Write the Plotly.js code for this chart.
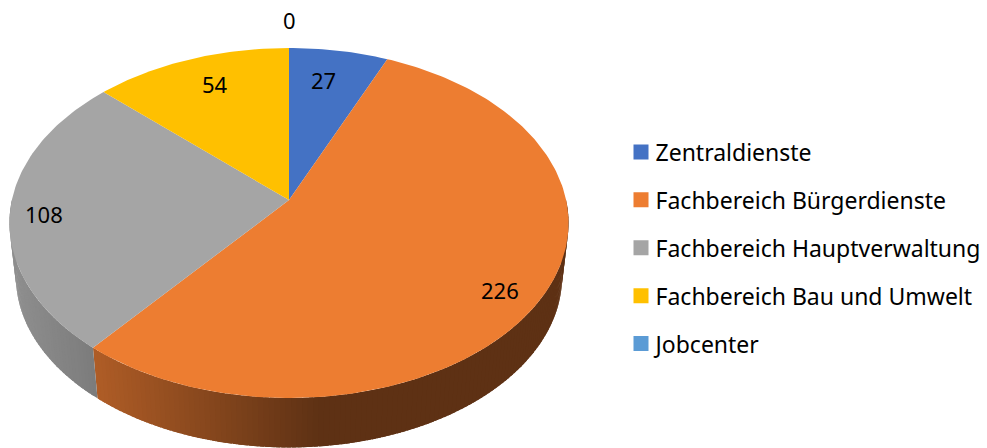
<!DOCTYPE html>
<html>
<head>
<meta charset="utf-8">
<script src="https://cdn.plot.ly/plotly-3.0.1.min.js"></script>
<style>html,body{margin:0;padding:0;background:#fff;overflow:hidden}#chart{width:987px;height:448px}</style>
</head>
<body>
<div id="chart"></div>
<script>
const categories = ["Zentraldienste","Fachbereich Bürgerdienste","Fachbereich Hauptverwaltung","Fachbereich Bau und Umwelt","Jobcenter"];
const values = [27,226,108,54,0];
const colors = ["#4472C4","#ED7D31","#A5A5A5","#FFC000","#5B9BD5"];
const sideFrom = ["#4472C4","#AE5C26","#8E8E8E","#FFC000","#5B9BD5"];
const sideTo   = ["#4472C4","#5E3114","#7C7C7C","#FFC000","#5B9BD5"];
const labelAnchors = [[323,80],[500,290],[44,214],[215,84],[289,20]];

const view = {cx:289,cy:200,A:277.1,B:172,k:0.1314,depthScale:0.977,depthY:254};
const total = values.reduce((a,b)=>a+b,0);
const rad = t => t*Math.PI/180;
function topPt(t){const s=Math.sin(rad(t)),c=Math.cos(rad(t)),d=1+view.k*c;
  return [view.cx+view.A*s/d, view.cy-view.B*c/d];}
function basePt(t){const s=Math.sin(rad(t)),c=Math.cos(rad(t)),d=1+view.k*c;
  return [view.cx+view.A*view.depthScale*s/d, view.depthY-view.B*view.depthScale*c/d];}
function hex(c){return [1,3,5].map(i=>parseInt(c.substr(i,2),16));}
function mix(a,b,f){f=Math.max(0,Math.min(1,f));const p=hex(a),q=hex(b);
  return 'rgb('+p.map((v,i)=>Math.round(v+(q[i]-v)*f)).join(',')+')';}

const traces=[];
let cum=0;
const spans=values.map(v=>{const a=cum/total*360;cum+=v;return [a,cum/total*360];});

// side wall: strips that overlap the next one, so no seams show
spans.forEach(([a,b],i)=>{
  const from=Math.max(a,90), to=Math.min(b,270);
  if(to<=from) return;
  const n=Math.ceil((to-from)/1);
  for(let j=0;j<n;j++){
    const p=from+(to-from)*j/n,q=Math.min(to,from+(to-from)*(j+1.8)/n);
    const arcT=[],arcB=[];
    for(let u=0;u<=4;u++){const t=p+(q-p)*u/4;arcT.push(topPt(t));arcB.unshift(basePt(t));}
    const poly=arcT.concat(arcB);poly.push(arcT[0]);
    const mx=(topPt(p)[0]+topPt(from+(to-from)*(j+1)/n)[0])/2;
    const f=i===1?(320-mx)/(320-97):(mx-15)/(93-15);
    const col=i===1?mix(sideTo[i],sideFrom[i],f):mix(sideFrom[i],sideTo[i],f);
    traces.push({type:'scatter',mode:'lines',x:poly.map(P=>P[0]),y:poly.map(P=>P[1]),
      fill:'toself',fillcolor:col,line:{color:col,width:0},showlegend:false,hoverinfo:'skip'});
  }
});

// top face slices
spans.forEach(([a,b],i)=>{
  if(b<=a) return;
  const xs=[view.cx],ys=[view.cy];
  const n=Math.ceil((b-a)/1);
  for(let j=0;j<=n;j++){const P=topPt(a+(b-a)*j/n);xs.push(P[0]);ys.push(P[1]);}
  xs.push(view.cx);ys.push(view.cy);
  traces.push({type:'scatter',mode:'lines',x:xs,y:ys,fill:'toself',fillcolor:colors[i],
    line:{width:0,color:colors[i]},showlegend:false,name:categories[i],text:String(values[i]),hoverinfo:'name+text'});
});

// legend entries
categories.forEach((c,i)=>{
  traces.push({type:'scatter',mode:'markers',x:[null],y:[null],name:c,legendgroup:c,
    marker:{symbol:'square',size:15,color:colors[i]},showlegend:true,hoverinfo:'skip'});
});

const textFont={family:'"Noto Sans", sans-serif',size:22,color:'#000'};
const legendFont={family:'"Noto Sans", sans-serif',size:23,color:'#000'};
const layout={
  width:987,height:448,margin:{l:0,r:0,t:0,b:0,autoexpand:false},paper_bgcolor:'#fff',plot_bgcolor:'#fff',
  font:textFont,
  xaxis:{range:[0,987],visible:false,fixedrange:true},
  yaxis:{range:[448,0],visible:false,fixedrange:true},
  legend:{x:621/987,y:1-130.5/448,xanchor:'left',yanchor:'top',bgcolor:'rgba(0,0,0,0)',
    tracegroupgap:15,itemwidth:30,font:legendFont},
  annotations:values.map((v,i)=>({x:labelAnchors[i][0],y:labelAnchors[i][1],xref:'x',yref:'y',text:String(v),
    showarrow:false,xanchor:'center',yanchor:'middle',font:textFont}))
};
Plotly.newPlot('chart',traces,layout,{displayModeBar:false,responsive:false}).then(()=>{
  // the reference keeps the legend text closer to its swatch than Plotly's minimum item width allows
  document.querySelectorAll('.legend .legendtext').forEach(t=>{
    t.setAttribute('x',String(parseFloat(t.getAttribute('x'))-5.5));
  });
});
</script>
</body>
</html>
